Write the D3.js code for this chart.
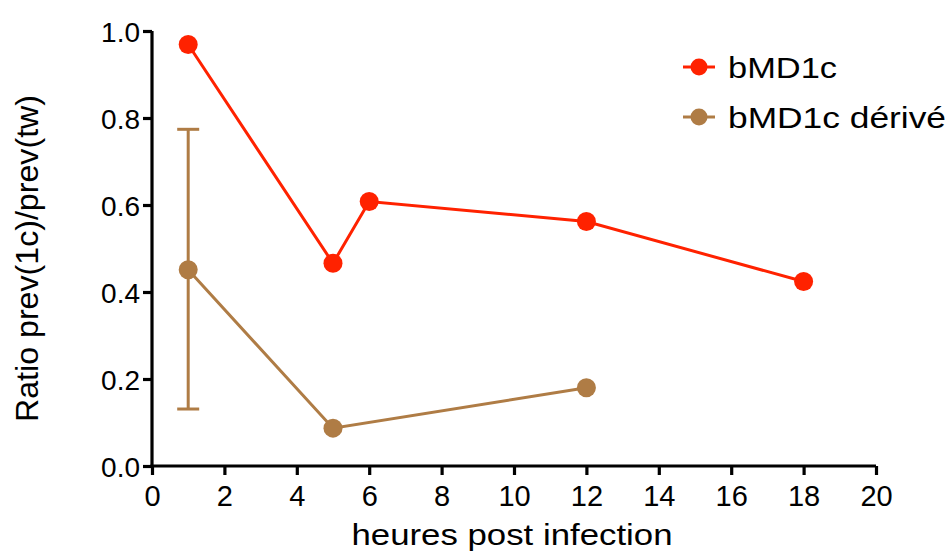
<!DOCTYPE html>
<html><head><meta charset="utf-8">
<script src="https://cdn.jsdelivr.net/npm/d3@7"></script>
<style>body{margin:0;background:#fff}svg{display:block}text{font-family:"Liberation Sans",Arial,sans-serif}</style>
</head><body>
<svg id="c" width="949" height="554"></svg>
<script>
const seriesNames = ["bMD1c", "bMD1c dérivé"];
const seriesColors = ["#FF2200", "#AF7C45"];
const redX = [1, 5, 6, 12, 18];
const redY = [0.969, 0.466, 0.608, 0.562, 0.424];
const brownX = [1, 5, 12];
const brownY = [0.451, 0.087, 0.180];
const brownErrLow = [0.131, null, null];
const brownErrHigh = [0.774, null, null];
const xTicks = [0, 2, 4, 6, 8, 10, 12, 14, 16, 18, 20];
const yTicks = [0, 0.2, 0.4, 0.6, 0.8, 1.0];
const xTitle = "heures post infection";
const yTitle = "Ratio prev(1c)/prev(tw)";

const svg = d3.select("#c");
const L = 152, R = 876, T = 31, B = 466;
const x = d3.scaleLinear().domain([0, 20]).range([L, R]);
const y = d3.scaleLinear().domain([0, 1]).range([B, T]);

const xAxis = svg.append("g").attr("transform", `translate(0,${B})`)
  .call(d3.axisBottom(x).tickValues(xTicks).tickFormat(d3.format("d")).tickSize(9).tickSizeOuter(0));
const yAxis = svg.append("g").attr("transform", `translate(${L},0)`)
  .call(d3.axisLeft(y).tickValues(yTicks).tickFormat(d3.format(".1f")).tickSize(9).tickSizeOuter(0));
[xAxis, yAxis].forEach(g => {
  g.select(".domain").attr("stroke", "#000").attr("stroke-width", 3.2);
  g.selectAll(".tick line").attr("stroke", "#000").attr("stroke-width", 3.2);
  g.selectAll(".tick text").attr("fill", "#000")
   .style("font-family", '"Liberation Sans",Arial,sans-serif');
});
xAxis.select(".domain").attr("d", `M${L-1.6},0H${R}`);
yAxis.select(".domain").attr("d", `M0,${T}V${B+1.6}`);
xAxis.selectAll(".tick text").style("font-size", "29px").attr("y", 39.5).attr("dy", 0);
yAxis.selectAll(".tick text").style("font-size", "28px").attr("x", -12).attr("dy", "0.36em");

svg.append("text").attr("x", 512).attr("y", 545).attr("text-anchor", "middle")
  .style("font-size", "30px").attr("textLength", 321).attr("lengthAdjust", "spacingAndGlyphs").text(xTitle);
svg.append("text").attr("transform", `translate(38,258.5) rotate(-90)`)
  .attr("text-anchor", "middle").style("font-size", "32px")
  .attr("textLength", 327).attr("lengthAdjust", "spacingAndGlyphs").text(yTitle);

const line = d3.line().x(d => x(d[0])).y(d => y(d[1]));
const red = redX.map((v, i) => [v, redY[i]]);
const brown = brownX.map((v, i) => [v, brownY[i]]);

brownX.forEach((v, i) => {
  if (brownErrLow[i] == null) return;
  const g = svg.append("g").attr("stroke", seriesColors[1]).attr("stroke-width", 3);
  g.append("line").attr("x1", x(v)).attr("x2", x(v)).attr("y1", y(brownErrLow[i])).attr("y2", y(brownErrHigh[i]));
  g.append("line").attr("x1", x(v) - 11).attr("x2", x(v) + 11).attr("y1", y(brownErrLow[i])).attr("y2", y(brownErrLow[i]));
  g.append("line").attr("x1", x(v) - 11).attr("x2", x(v) + 11).attr("y1", y(brownErrHigh[i])).attr("y2", y(brownErrHigh[i]));
});

[[brown, seriesColors[1]], [red, seriesColors[0]]].forEach(([data, col]) => {
  svg.append("path").datum(data).attr("d", line).attr("fill", "none").attr("stroke", col).attr("stroke-width", 3);
  svg.selectAll(null).data(data).enter().append("circle")
    .attr("cx", d => x(d[0])).attr("cy", d => y(d[1])).attr("r", 9.5).attr("fill", col);
});

const legendLen = [109, 218];
seriesNames.forEach((n, i) => {
  const ly = 67 + i * 50;
  svg.append("line").attr("x1", 683).attr("x2", 715).attr("y1", ly).attr("y2", ly)
    .attr("stroke", seriesColors[i]).attr("stroke-width", 3);
  svg.append("circle").attr("cx", 699).attr("cy", ly).attr("r", 8.5).attr("fill", seriesColors[i]);
  svg.append("text").attr("x", 728).attr("y", ly + 10.5).style("font-size", "29px")
    .attr("textLength", legendLen[i]).attr("lengthAdjust", "spacingAndGlyphs").text(n);
});
</script>
</body></html>
